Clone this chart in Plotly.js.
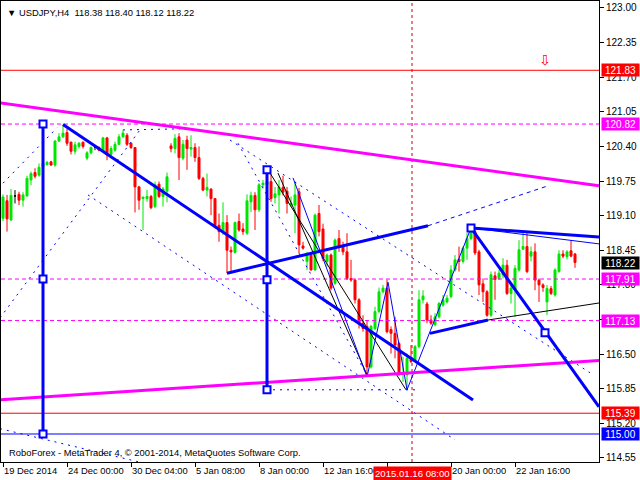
<!DOCTYPE html>
<html><head><meta charset="utf-8">
<script src="https://cdn.plot.ly/plotly-3.0.1.min.js"></script>
<style>html,body{margin:0;padding:0;background:#fff}#chart{width:640px;height:480px}</style>
</head><body><div id="chart"></div>
<script>
// ---- price bars (H4) ----
const openP  = [119.05,119.38,119.02,119.47,119.50,119.39,119.47,119.77,119.91,119.86,120.02,120.06,120.11,120.05,120.50,120.58,120.66,120.48,120.31,120.40,120.48,120.18,120.28,120.38,120.38,120.31,120.56,120.25,120.33,120.44,120.58,120.61,120.46,120.38,119.64,119.42,119.42,119.46,119.27,119.69,119.46,119.56,120.41,120.36,120.58,120.18,120.52,120.35,120.38,120.19,119.80,119.58,119.60,119.42,118.92,118.80,118.97,118.45,118.41,118.99,118.85,118.77,119.36,119.48,119.21,119.68,119.68,119.74,119.44,119.49,119.63,119.56,119.30,119.30,119.55,118.53,118.24,118.36,118.08,119.14,118.85,118.24,118.36,117.83,118.67,118.52,118.42,117.92,117.89,117.52,117.08,117.02,116.26,116.98,117.30,117.67,117.74,116.96,116.89,116.70,116.11,116.11,116.40,116.39,116.64,117.52,117.44,117.14,117.05,117.20,117.42,117.48,117.58,118.08,118.28,118.24,118.49,118.67,118.80,118.42,117.82,117.67,117.23,117.97,117.92,117.99,118.17,117.64,117.70,118.08,118.47,118.52,118.34,118.42,117.89,117.80,117.48,117.73,117.61,118.05,118.38,118.33,118.44,118.38];
const highP  = [119.50,119.49,119.60,119.58,119.55,119.54,119.85,119.93,119.99,120.08,120.18,120.13,120.13,120.52,120.65,120.80,120.73,120.49,120.49,120.48,120.49,120.31,120.40,120.41,120.40,120.58,120.58,120.41,120.49,120.63,120.71,120.65,120.48,120.38,119.66,119.45,119.58,119.49,119.74,119.74,119.64,119.91,120.46,120.63,120.65,120.52,120.60,120.61,120.46,120.40,119.83,119.89,119.61,119.42,119.14,119.35,119.11,118.52,118.99,119.14,118.96,119.50,119.55,119.54,119.71,119.77,119.93,119.88,119.64,119.77,119.85,119.64,119.46,119.74,119.62,118.61,118.42,118.42,119.14,119.30,118.95,118.39,118.39,118.67,118.83,118.61,118.77,118.27,117.92,117.55,117.23,117.14,117.05,117.39,117.75,117.80,117.90,117.02,117.20,116.73,116.45,116.51,116.67,116.67,117.70,117.70,117.48,117.23,117.27,117.48,117.61,117.61,118.17,118.36,118.52,118.52,118.77,118.88,118.84,118.46,117.92,117.70,118.05,118.05,118.08,118.30,118.27,117.83,118.17,118.64,118.80,118.77,118.52,118.58,117.92,117.83,117.80,117.78,118.11,118.45,118.45,118.45,118.64,118.40];
const lowP   = [119.00,118.80,119.00,119.33,119.30,119.27,119.46,119.67,119.80,119.83,119.99,120.04,120.04,120.02,120.49,120.56,120.41,120.25,120.25,120.36,120.36,120.14,120.25,120.33,120.31,120.30,120.14,120.23,120.30,120.43,120.56,120.41,120.35,119.16,119.21,118.83,119.36,119.22,119.24,119.43,119.27,119.35,120.29,120.27,119.77,120.14,119.96,120.21,120.11,119.77,119.56,119.46,119.11,118.86,118.61,118.74,118.02,118.05,118.39,118.80,118.74,118.74,119.17,118.83,119.17,119.61,119.64,119.36,119.33,119.14,119.48,119.14,119.27,118.77,118.39,118.46,118.08,118.07,118.07,118.71,118.25,118.14,117.70,117.80,118.42,118.36,117.89,117.86,117.45,116.98,116.92,116.08,116.23,116.95,117.27,117.64,116.89,116.51,116.42,116.11,115.98,115.83,116.33,116.36,116.61,117.45,117.08,117.05,117.02,117.17,117.39,117.45,117.55,118.05,118.05,118.20,118.27,118.64,118.36,117.61,117.48,117.20,117.20,117.52,117.89,117.92,117.61,117.45,117.20,118.05,118.46,118.02,118.24,117.70,117.48,117.67,117.23,117.61,117.58,118.03,118.30,118.28,118.32,118.12];
const closeP = [119.45,119.04,119.48,119.47,119.39,119.49,119.80,119.89,119.84,120.01,120.08,120.10,120.05,120.50,120.58,120.65,120.46,120.31,120.43,120.46,120.40,120.28,120.38,120.38,120.33,120.56,120.24,120.36,120.44,120.58,120.65,120.44,120.38,119.64,119.39,119.45,119.46,119.25,119.68,119.46,119.60,119.83,120.36,120.55,120.19,120.44,120.36,120.38,120.19,119.80,119.58,119.63,119.42,118.91,118.80,118.97,118.45,118.42,118.97,118.83,118.80,119.38,119.48,119.21,119.68,119.71,119.74,119.42,119.51,119.64,119.54,119.33,119.33,119.49,118.55,118.49,118.39,118.08,119.11,118.80,118.30,118.36,117.74,118.64,118.52,118.42,117.92,117.89,117.52,117.08,116.98,116.26,117.02,117.30,117.67,117.74,116.92,116.89,116.67,116.11,116.14,116.42,116.36,116.64,117.52,117.59,117.14,117.08,117.20,117.45,117.52,117.55,118.08,118.27,118.24,118.49,118.67,118.83,118.40,117.80,117.67,117.23,117.99,117.90,118.02,118.17,117.64,117.74,118.11,118.46,118.52,118.05,118.42,117.89,117.80,117.75,117.73,117.64,118.08,118.38,118.34,118.42,118.34,118.22];

// ---- axes ----
const timeTickBars   = [0, 16, 32, 48, 64, 80, 96, 112, 128];
const timeTickLabels = ['19 Dec 2014','24 Dec 00:00','30 Dec 04:00','5 Jan 08:00','8 Jan 00:00','12 Jan 16:00','','20 Jan 00:00','22 Jan 16:00'];
const priceTicks = [123.00,122.35,121.70,121.05,120.40,119.75,119.10,118.45,117.80,117.15,116.50,115.85,115.20,114.55];
const xRange = [-0.5, 149];
const yRange = [114.474, 123.131];

// ---- horizontal levels ----
const magentaLevels = [120.82, 117.91, 117.13];
const redLevels = [121.83, 115.39];
const blueLevels = [115.00];
const lastPrice = 118.22;
const crosshairBar = 102.25;
const crosshairLabel = '2015.01.16 08:00';

// ---- drawn objects [bar0, price0, bar1, price1] ----
const magentaThick = [[-0.75,121.22,149,119.66],[-0.75,115.64,149,116.38]];
const blueThick = [[15,120.81,117.5,115.64],[117,118.87,149,118.70],[117,118.87,149,115.51],[56,118.02,106.25,118.91],[106.75,116.89,121.25,117.14],[10,120.82,10,115.00],[66,119.96,66,115.83]];
const blueThinSolid = [[72.5,119.81,91,116.07],[91,116.07,96.25,117.85],[96.25,117.85,101,115.83],[101,115.83,117,118.87],[117,118.87,149,118.57]];
const blackThin = [[121.25,117.14,149,117.46],[66.75,119.90,100.75,115.83],[68.75,119.90,91.25,116.07]];
const blueDashed = [[106.25,118.91,136.25,119.66]];
const blueDotted = [[-0.75,117.18,34.25,120.71],[0,119.71,13.5,120.75],[30,120.71,44.25,120.73],[21.25,119.49,113,114.89],[56.75,120.52,146.75,116.15],[-0.75,115.10,34.25,114.47],[65.75,115.83,103.75,115.83],[58.75,120.46,91.25,116.07]];
const boxPoints = [[10,120.82],[10,117.91],[10,115.00],[66,119.96],[66,117.895],[66,115.83],[117,118.87],[135.5,116.90]];
const arrowPoint = [135.5, 122.02];

// ---- build ----
const FONT = 'Liberation Sans, DejaVu Sans, sans-serif';
const GREEN = '#00e600', RED = '#ff0000', BLUE = '#0000ff', MAG = '#ff00ff';
function pick(cond){const r={x:[],o:[],h:[],l:[],c:[]};for(let i=0;i<openP.length;i++){if(cond(i)){r.x.push(i);r.o.push(openP[i]);r.h.push(highP[i]);r.l.push(lowP[i]);r.c.push(closeP[i]);}}return r;}
function candle(d,col){return {type:'candlestick',x:d.x,open:d.o,high:d.h,low:d.l,close:d.c,whiskerwidth:0,
  increasing:{line:{color:col,width:1},fillcolor:col},decreasing:{line:{color:col,width:1},fillcolor:col},hoverinfo:'skip',showlegend:false};}
function segTrace(segs,color,width,dash){const x=[],y=[];segs.forEach(s=>{x.push(s[0],s[2],null);y.push(s[1],s[3],null);});
  return {type:'scatter',mode:'lines',x:x,y:y,line:{color:color,width:width,dash:dash||'solid'},hoverinfo:'skip',showlegend:false};}
function levelSegs(levels){return levels.map(v=>[xRange[0],v,xRange[1],v]);}

const traces = [
  candle(pick(i=>closeP[i]>openP[i]),GREEN),
  candle(pick(i=>closeP[i]<openP[i]),RED),
  candle(pick(i=>closeP[i]===openP[i]),'#000000'),
  segTrace(blueDotted,BLUE,1,'2px,5px'),
  segTrace(blueDashed,BLUE,1,'4px,4px'),
  segTrace(levelSegs(magentaLevels),MAG,1,'4px,3px'),
  segTrace(levelSegs(redLevels),RED,1),
  segTrace(levelSegs(blueLevels),BLUE,1),
  segTrace([[crosshairBar,yRange[0],crosshairBar,yRange[1]]],'#cc0000',1,'3px,3px'),
  segTrace(blackThin,'#000000',1),
  segTrace(blueThinSolid,BLUE,1),
  segTrace(magentaThick,MAG,3),
  segTrace(blueThick,BLUE,3),
  {type:'scatter',mode:'markers',x:boxPoints.map(p=>p[0]),y:boxPoints.map(p=>p[1]),
   marker:{symbol:'square',size:7,color:'#ffffff',line:{color:BLUE,width:2}},hoverinfo:'skip',showlegend:false}
];

const annotations = [];
const last = openP.length-1;
annotations.push({xref:'paper',yref:'paper',x:0,y:1,xanchor:'left',yanchor:'top',xshift:4,yshift:-4,showarrow:false,
  text:'\u25BC USDJPY,H4\u00a0\u00a0'+[openP[last],highP[last],lowP[last],closeP[last]].map(v=>v.toFixed(2)).join(' '),
  font:{family:FONT,size:9.4,color:'#000'}});
annotations.push({xref:'paper',yref:'paper',x:0,y:0,xanchor:'left',yanchor:'bottom',xshift:6,yshift:2,showarrow:false,
  text:'RoboForex - MetaTrader 4, \u00a9 2001-2014, MetaQuotes Software Corp.',font:{family:FONT,size:9.4,color:'#000'}});
annotations.push({xref:'x',yref:'y',x:arrowPoint[0],y:arrowPoint[1],showarrow:false,text:'\u21E9',font:{family:'DejaVu Sans',size:14,color:RED}});
function axisBox(v,bg){annotations.push({xref:'paper',yref:'y',x:1,y:v,xanchor:'left',yanchor:'middle',xshift:2,showarrow:false,
  text:v.toFixed(2),bgcolor:bg,width:37,height:12,borderpad:0,align:'center',font:{family:FONT,size:10,color:'#fff'}});}
redLevels.forEach(v=>axisBox(v,RED));
magentaLevels.forEach(v=>axisBox(v,MAG));
blueLevels.forEach(v=>axisBox(v,BLUE));
axisBox(lastPrice,'#000000');
annotations.push({xref:'x',yref:'paper',x:crosshairBar,y:0,xanchor:'center',yanchor:'top',yshift:-4,showarrow:false,
  text:crosshairLabel,bgcolor:'#ff0000',borderpad:1,font:{family:FONT,size:9.6,color:'#fff'}});

const layout = {
  width:640,height:480,margin:{l:1,r:41,t:1,b:18,pad:0},
  paper_bgcolor:'#ffffff',plot_bgcolor:'#ffffff',showlegend:false,hovermode:false,dragmode:false,
  boxgap:0.5,boxgroupgap:0,
  xaxis:{range:xRange,rangeslider:{visible:false},showgrid:false,zeroline:false,showline:true,mirror:true,linecolor:'#000',linewidth:1,
    tickmode:'array',tickvals:timeTickBars,ticktext:timeTickLabels,ticks:'outside',ticklen:4,tickcolor:'#000',tickangle:0,
    ticklabelposition:'outside right',tickfont:{family:FONT,size:9.4,color:'#000'},fixedrange:true},
  yaxis:{range:yRange,side:'right',showgrid:false,zeroline:false,showline:true,mirror:true,linecolor:'#000',linewidth:1,
    tickmode:'array',tickvals:priceTicks,ticktext:priceTicks.map(v=>v.toFixed(2)),ticks:'outside',ticklen:4,tickcolor:'#000',
    tickfont:{family:FONT,size:10,color:'#000'},fixedrange:true},
  annotations:annotations
};
Plotly.newPlot('chart',traces,layout,{displayModeBar:false,staticPlot:true});
</script></body></html>
